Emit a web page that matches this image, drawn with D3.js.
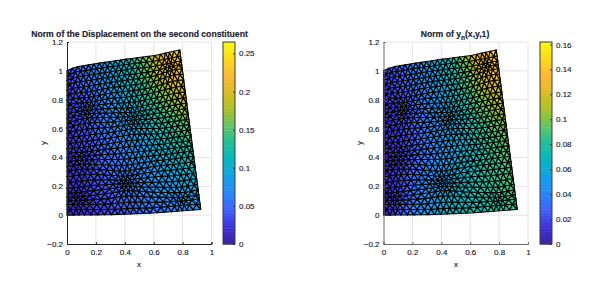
<!DOCTYPE html>
<html>
<head>
<meta charset="utf-8">
<script src="https://cdnjs.cloudflare.com/ajax/libs/d3/7.8.5/d3.min.js"></script>
<style>
  html, body { margin: 0; background: #fff; }
  text { font-family: "Liberation Sans", Arial, sans-serif; fill: #1c2030; stroke: #1c2030; stroke-width: 0.15px; }
</style>
</head>
<body>
<svg id="chart" width="613" height="286"></svg>
<script>
const xTicks = [0, 0.2, 0.4, 0.6, 0.8, 1];
const yTicks = [-0.2, 0, 0.2, 0.4, 0.6, 0.8, 1, 1.2];
const barTicksLeft = [0, 0.05, 0.1, 0.15, 0.2, 0.25];
const barTicksRight = [0, 0.02, 0.04, 0.06, 0.08, 0.1, 0.12, 0.14, 0.16];

// outline of the domain
const topEdgeX = [0, 0.05, 0.2, 0.4, 0.6, 0.78];
const topEdgeY = [1, 1.025, 1.05, 1.08, 1.105, 1.145];
const bottomEdgeX = [0, 0.3, 0.6, 0.8, 0.925];
const bottomEdgeY = [0, 0.003, 0.015, 0.03, 0.04];

// colours read at 7 stations across and 8 rows up (bottom row first)
const fieldLeft = [
  [0.012, 0.025, 0.035, 0.047, 0.056, 0.064, 0.078],
  [0.015, 0.028, 0.042, 0.056, 0.070, 0.084, 0.098],
  [0.018, 0.032, 0.048, 0.064, 0.082, 0.100, 0.118],
  [0.020, 0.036, 0.054, 0.074, 0.096, 0.118, 0.138],
  [0.022, 0.040, 0.060, 0.084, 0.110, 0.138, 0.165],
  [0.024, 0.044, 0.068, 0.095, 0.126, 0.162, 0.198],
  [0.028, 0.050, 0.076, 0.106, 0.144, 0.192, 0.232],
  [0.034, 0.058, 0.084, 0.112, 0.152, 0.212, 0.256]
];
const fieldRight = [
  [0.006, 0.032, 0.052, 0.066, 0.074, 0.080, 0.086],
  [0.006, 0.026, 0.044, 0.060, 0.072, 0.082, 0.090],
  [0.007, 0.022, 0.038, 0.054, 0.068, 0.082, 0.092],
  [0.008, 0.020, 0.034, 0.050, 0.066, 0.082, 0.096],
  [0.010, 0.020, 0.034, 0.050, 0.068, 0.088, 0.106],
  [0.012, 0.022, 0.036, 0.054, 0.074, 0.100, 0.122],
  [0.014, 0.026, 0.040, 0.058, 0.082, 0.114, 0.140],
  [0.018, 0.030, 0.046, 0.064, 0.090, 0.124, 0.155]
];

const parula = ["#3a24a0", "#4030d8", "#4060ff", "#2a88f8", "#149fe8", "#06b6c4", "#1fbf9c",
  "#60c468", "#a8c22c", "#dcbc24", "#fcb934", "#fcd81c", "#fafa0a"];

const meshCols = 22, meshRows = 31;
// spots where the mesh is visibly finer: [u, v, pull]
const refineSpots = [[0.46, 0.2, 0.4], [0.06, 0.1, 0.35], [0.18, 0.7, 0.3], [0.92, 0.93, 0.4],
  [0.55, 0.62, 0.3], [0.88, 0.05, 0.35], [0.12, 0.38, 0.25]];

const svg = d3.select("#chart");

const topY = d3.scaleLinear().domain(topEdgeX).range(topEdgeY);
const bottomY = d3.scaleLinear().domain(bottomEdgeX).range(bottomEdgeY);

function warp(u, v) {
  let du = 0, dv = 0;
  refineSpots.forEach(([cu, cv, s]) => {
    const a = u - cu, b = (v - cv) * 1.3;
    const w = s * Math.exp(-(a * a + b * b) / 0.025);
    du -= a * w; dv -= (v - cv) * w;
  });
  const ku = Math.min(1, 10 * u * (1 - u)), kv = Math.min(1, 10 * v * (1 - v));
  return [u + du * ku, v + dv * kv];
}

function toDomain(u, v) {
  const xt = u * 0.78, xb = u * 0.925;
  const yt = topY(xt), yb = bottomY(xb);
  return [xb + (xt - xb) * v, yb + (yt - yb) * v];
}

function buildMesh() {
  const rows = [];
  for (let j = 0; j < meshRows; j++) {
    const n = j % 2 ? meshCols + 1 : meshCols;
    const row = [];
    for (let i = 0; i < n; i++) {
      const raw = j % 2 ? (i === 0 ? 0 : i === n - 1 ? 1 : (i - 0.5) / (meshCols - 1)) : i / (meshCols - 1);
      row.push(warp(raw, j / (meshRows - 1)));
    }
    rows.push(row);
  }
  const tris = [];
  for (let j = 0; j < meshRows - 1; j++) {
    const low = rows[j], high = rows[j + 1];
    const short = low.length < high.length ? low : high;
    const long = low.length < high.length ? high : low;
    for (let i = 0; i < short.length; i++) {
      tris.push([long[i], long[i + 1], short[i]]);
      if (i < short.length - 1) tris.push([short[i], short[i + 1], long[i + 1]]);
    }
    tris.push([long[long.length - 2], long[long.length - 1], short[short.length - 1]]);
  }
  return tris;
}

function sampleField(table, u, v) {
  const fu = Math.min(u * 6, 5.999), fv = Math.min(v * 7, 6.999);
  const i = Math.floor(fu), j = Math.floor(fv), a = fu - i, b = fv - j;
  const low = table[j][i] * (1 - a) + table[j][i + 1] * a;
  const high = table[j + 1][i] * (1 - a) + table[j + 1][i + 1] * a;
  return low * (1 - b) + high * b;
}

function drawPanel(opt) {
  const g = svg.append("g");
  const x = d3.scaleLinear().domain([0, 1]).range([opt.left, opt.left + 144.5]);
  const y = d3.scaleLinear().domain([-0.2, 1.2]).range([244, 42]);
  const color = d3.scaleLinear()
    .domain(parula.map((c, i) => opt.max * i / (parula.length - 1)))
    .range(parula);

  const grid = g.append("g").attr("stroke", "#e4e4e4").attr("stroke-width", 1);
  xTicks.slice(1).forEach(t => grid.append("line")
    .attr("x1", x(t)).attr("x2", x(t)).attr("y1", y(-0.2)).attr("y2", y(1.2)));
  yTicks.slice(1).forEach(t => grid.append("line")
    .attr("x1", x(0)).attr("x2", x(1)).attr("y1", y(t)).attr("y2", y(t)));

  const line = d3.line().x(d => x(toDomain(d[0], d[1])[0])).y(d => y(toDomain(d[0], d[1])[1]));
  g.append("g").selectAll("path").data(buildMesh()).join("path")
    .attr("d", d => line(d) + "Z")
    .attr("fill", d => color(sampleField(opt.field, d3.mean(d, p => p[0]), d3.mean(d, p => p[1]))))
    .attr("stroke", "#050505")
    .attr("stroke-width", 1.1)
    .attr("stroke-linejoin", "round");

  const xAxis = g.append("g").attr("transform", `translate(0,${y(-0.2)})`)
    .call(d3.axisBottom(x).tickValues(xTicks).tickFormat(d3.format("~g")).tickSize(-2).tickPadding(5));
  const yAxis = g.append("g").attr("transform", `translate(${x(0)},0)`)
    .call(d3.axisLeft(y).tickValues(yTicks).tickFormat(d3.format("~g")).tickSize(-2).tickPadding(4));
  [xAxis, yAxis].forEach(a => {
    a.selectAll(".domain").attr("stroke", opt.axisColor).attr("stroke-width", 1);
    a.selectAll(".tick line").attr("stroke", opt.axisColor);
    a.selectAll("text").attr("font-size", 8).attr("fill", null);
    a.attr("font-family", null);
  });

  g.append("text").attr("x", opt.xLabelX).attr("y", 267).attr("text-anchor", "middle")
    .attr("font-size", 8).text("x");
  g.append("text").attr("transform", `translate(${opt.yLabelX},143) rotate(-90)`)
    .attr("text-anchor", "middle").attr("font-size", 8).text("y");

  const title = g.append("text").attr("x", opt.titleX).attr("y", 37)
    .attr("text-anchor", "middle").attr("font-size", 8.65).attr("font-weight", "bold");
  opt.title.forEach(part => title.append("tspan")
    .attr("dy", part.dy || 0)
    .attr("font-size", part.size || null)
    .text(part.text));

  // colour bar
  const barY = d3.scaleLinear().domain([0, opt.max]).range([244, 42]);
  const steps = d3.range(0, 64);
  const bar = g.append("g");
  bar.selectAll("rect").data(steps).join("rect")
    .attr("x", opt.barLeft).attr("width", 12)
    .attr("y", d => barY(opt.max * (d + 1) / 64))
    .attr("height", 202 / 64 + 0.5)
    .attr("fill", d => color(opt.max * (d + 0.5) / 64));
  bar.append("rect").attr("x", opt.barLeft).attr("y", 42).attr("width", 12).attr("height", 202)
    .attr("fill", "none").attr("stroke", "#3a3a3a").attr("stroke-width", 1);
  const barAxis = bar.append("g").attr("transform", `translate(${opt.barLeft + 12},0)`)
    .call(d3.axisRight(barY).tickValues(opt.barTicks).tickFormat(d3.format("~g")).tickSize(-2).tickPadding(4));
  barAxis.select(".domain").remove();
  barAxis.selectAll(".tick line").attr("stroke", "#3a3a3a");
  barAxis.selectAll("text").attr("font-size", 8).attr("fill", null);
  barAxis.attr("font-family", null);
}

drawPanel({
  left: 67, barLeft: 223, max: 0.265, field: fieldLeft, barTicks: barTicksLeft,
  titleX: 139.5, xLabelX: 139, yLabelX: 46, axisColor: "#222",
  title: [{ text: "Norm of the Displacement on the second constituent" }]
});
drawPanel({
  left: 383.5, barLeft: 540, max: 0.162, field: fieldRight, barTicks: barTicksRight,
  titleX: 455, xLabelX: 456, yLabelX: 362, axisColor: "#666",
  title: [{ text: "Norm of y" }, { text: "n", dy: 2.5, size: 6.5 }, { text: "(x,y,1)", dy: -2.5 }]
});
</script>
</body>
</html>
